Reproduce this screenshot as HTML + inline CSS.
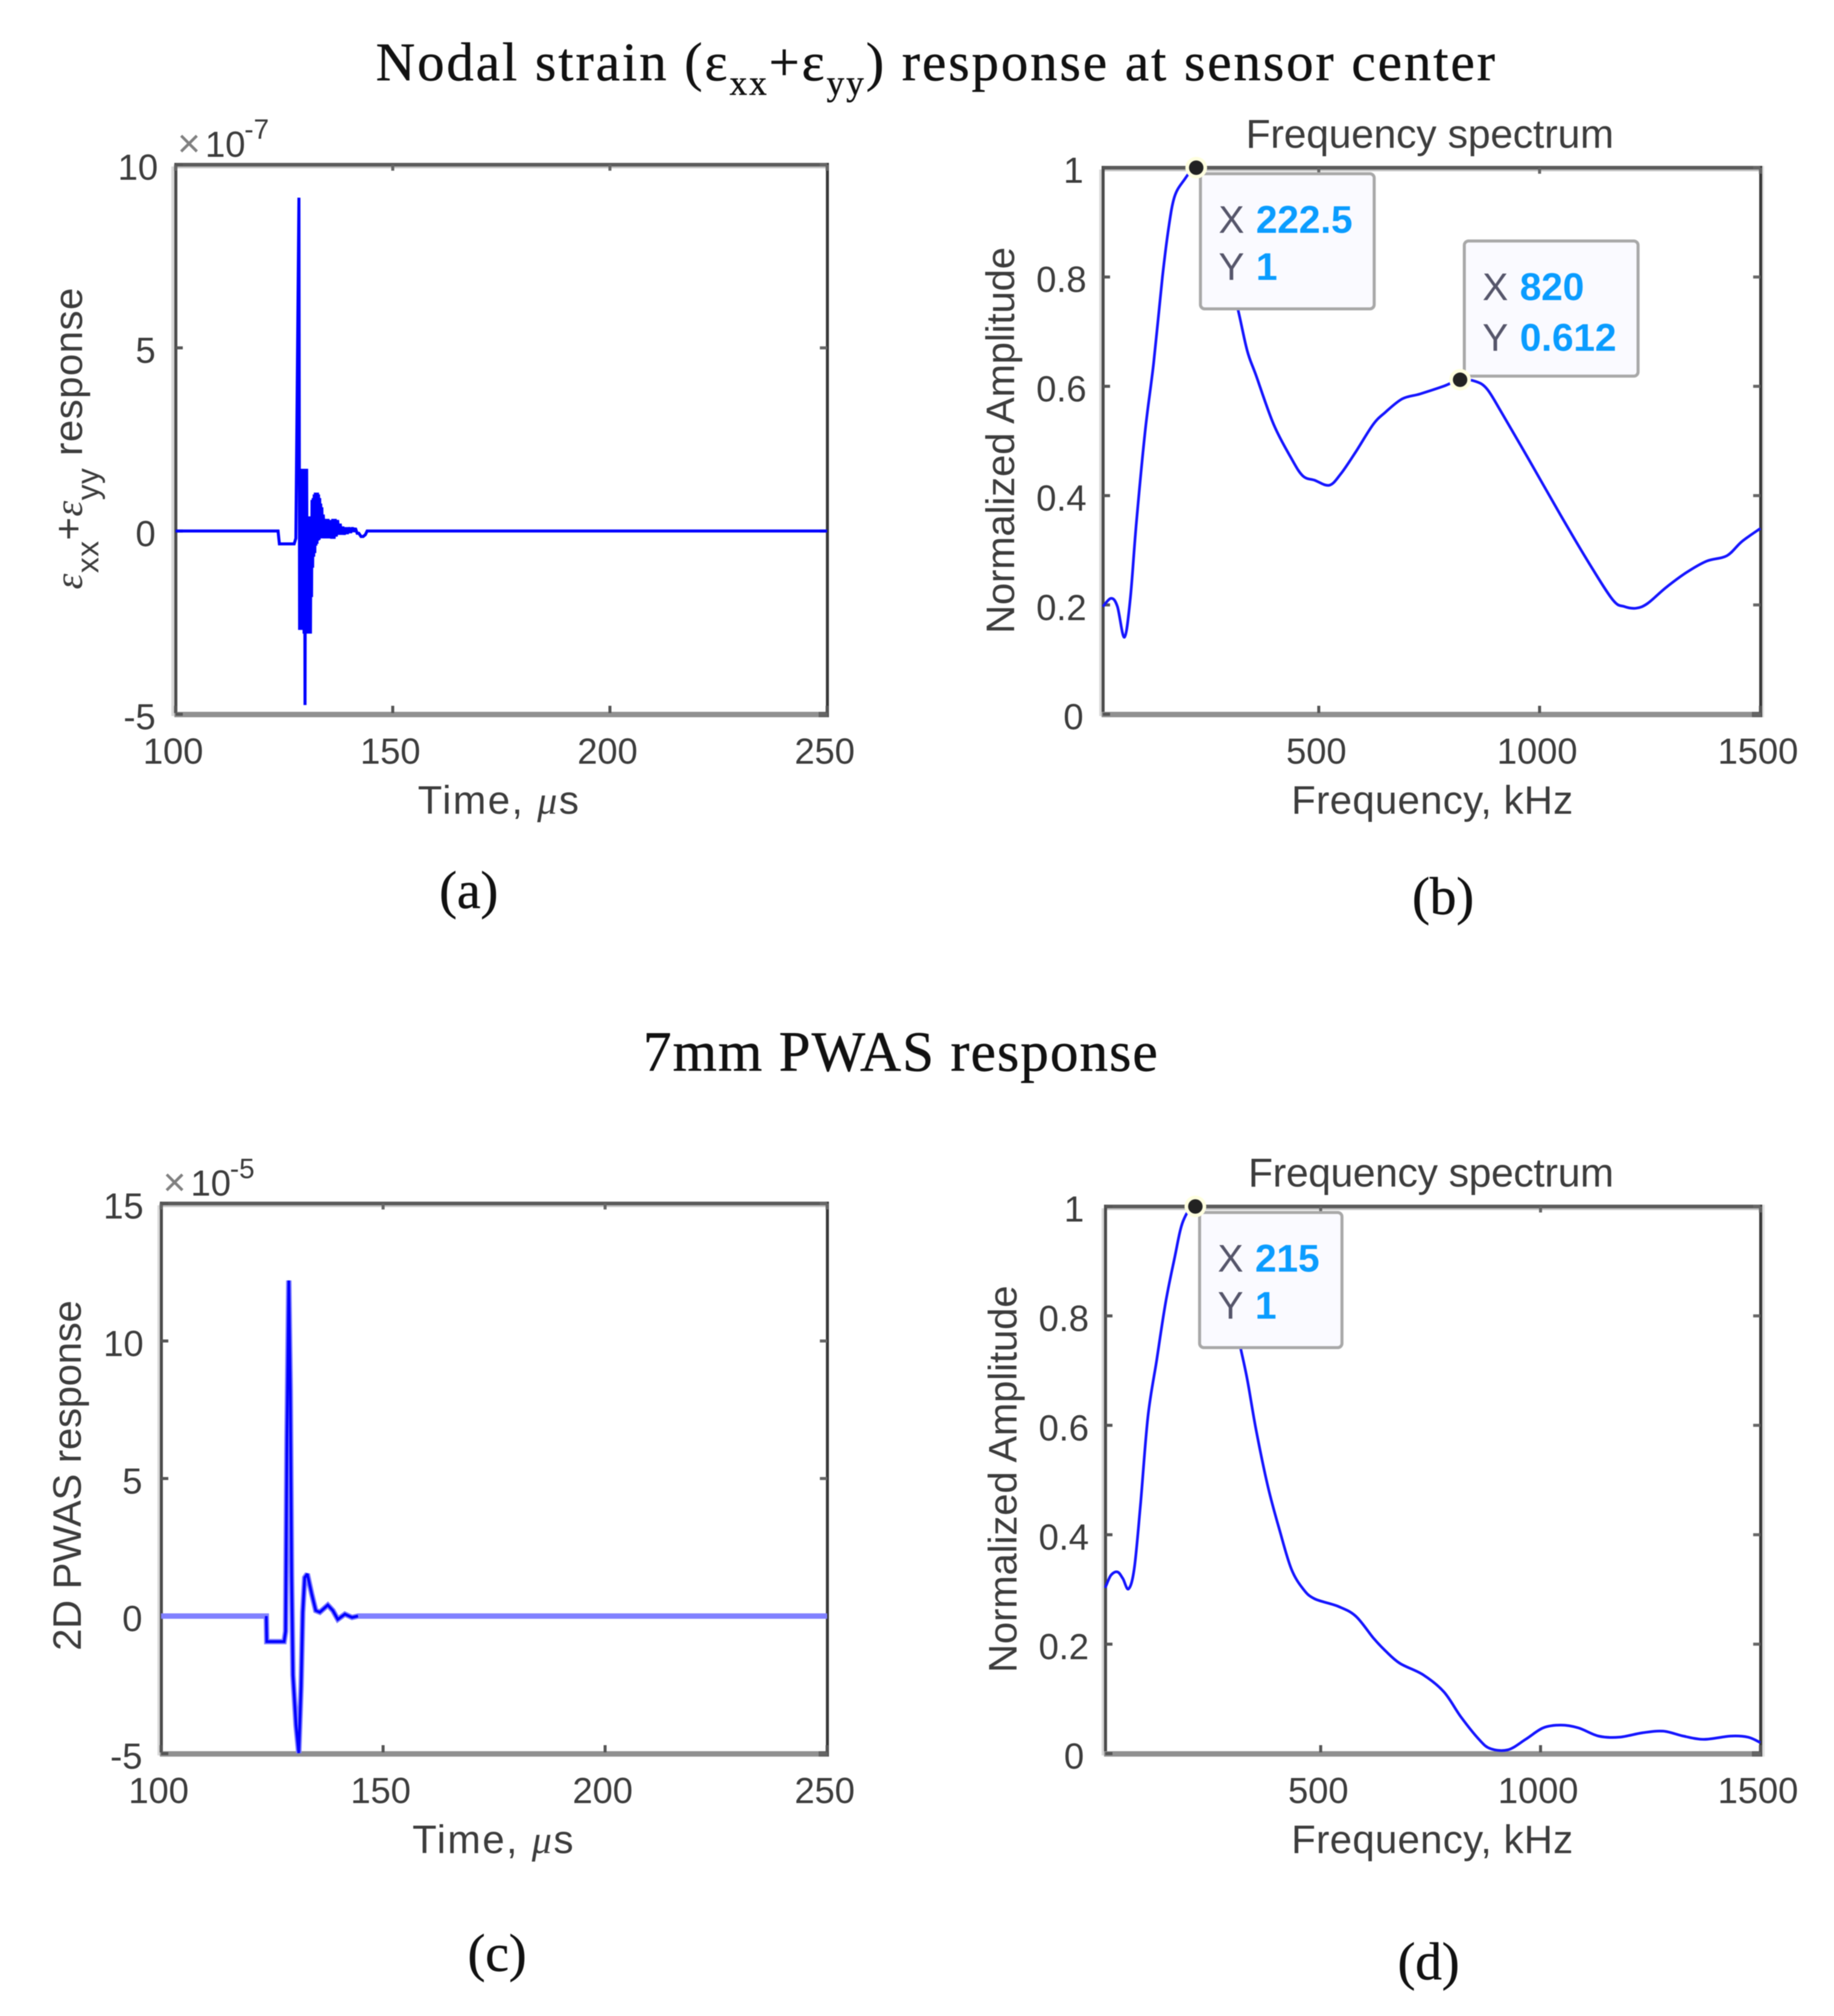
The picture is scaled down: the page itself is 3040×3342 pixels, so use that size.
<!DOCTYPE html>
<html lang="en">
<head>
<meta charset="utf-8">
<title>Nodal strain and PWAS response</title>
<style>
html,body{margin:0;padding:0;background:#fff;width:3040px;height:3342px;overflow:hidden}
svg{display:block;filter:blur(0.9px)}
text{font-family:"Liberation Sans",sans-serif;fill:#3c3c3c}
.serif{font-family:"Liberation Serif",serif;fill:#111;stroke:#111;stroke-width:0.7px}
.ser{font-family:"Liberation Serif",serif}
</style>
</head>
<body>
<svg id="figure" xmlns="http://www.w3.org/2000/svg" width="3040" height="3342" viewBox="0 0 3040 3342">
  <rect x="0" y="0" width="3040" height="3342" fill="#ffffff"/>

  <text class="serif" x="623" y="133" font-size="90" textLength="1855">Nodal strain (ε<tspan font-size="58" dy="24">xx</tspan><tspan dy="-24">+ε</tspan><tspan font-size="58" dy="24">yy</tspan><tspan dy="-24">) response at sensor center</tspan></text>
  <text class="serif" x="1066" y="1775" font-size="94" textLength="853">7mm PWAS response</text>

  <text class="serif" x="777" y="1505" font-size="88" text-anchor="middle">(a)</text>
  <text class="serif" x="2392" y="1515" font-size="88" text-anchor="middle">(b)</text>
  <text class="serif" x="824" y="3267" font-size="88" text-anchor="middle">(c)</text>
  <text class="serif" x="2368" y="3281" font-size="88" text-anchor="middle">(d)</text>

  <text x="826" y="1349" font-size="66" text-anchor="middle" textLength="267">Time, <tspan class="ser" font-style="italic">μ</tspan>s</text>
  <text x="817" y="3072" font-size="66" text-anchor="middle" textLength="267">Time, <tspan class="ser" font-style="italic">μ</tspan>s</text>
  <text x="2374" y="1349" font-size="66" text-anchor="middle" textLength="467">Frequency, kHz</text>
  <text x="2374" y="3072" font-size="66" text-anchor="middle" textLength="467">Frequency, kHz</text>

  <text x="2370" y="245" font-size="67" text-anchor="middle" textLength="610">Frequency spectrum</text>
  <text x="2372" y="1967" font-size="67" text-anchor="middle" textLength="606">Frequency spectrum</text>

  <text transform="translate(136,727) rotate(-90)" font-size="66" text-anchor="middle" textLength="500"><tspan class="ser" font-style="italic">ε</tspan><tspan font-size="52" dy="27">xx</tspan><tspan dy="-27">+</tspan><tspan class="ser" font-style="italic">ε</tspan><tspan font-size="52" dy="27">yy</tspan><tspan dy="-27"> response</tspan></text>
  <text transform="translate(134,2446) rotate(-90)" font-size="66" text-anchor="middle" textLength="581">2D PWAS response</text>
  <text transform="translate(1681,730) rotate(-90)" font-size="66" text-anchor="middle" textLength="641">Normalized Amplitude</text>
  <text transform="translate(1685,2452) rotate(-90)" font-size="66" text-anchor="middle" textLength="642">Normalized Amplitude</text>

  <g>
    <text x="294" y="260" font-size="66" style="fill:#808080">×</text>
    <text x="340" y="260" font-size="60">10</text>
    <text x="405" y="230" font-size="46">-7</text>
  </g>
  <g>
    <text x="270" y="1982" font-size="66" style="fill:#808080">×</text>
    <text x="316" y="1982" font-size="60">10</text>
    <text x="381" y="1953" font-size="46">-5</text>
  </g>
</svg>

<script>
// Panel (a): nodal strain response, x 1e-7
const strainTimes = [100,123.6,123.9,127.3,127.7,128.4,128.55,128.7,128.82,128.95,129.08,129.2,129.33,129.46,129.58,129.7,129.8,129.92,130.05,130.18,130.3,130.43,130.56,130.68,130.8,130.92,131.05,131.18,131.3,131.42,131.55,131.68,131.8,131.92,132.05,132.18,132.3,132.43,132.56,132.68,132.8,132.92,133.05,133.18,133.3,133.42,133.55,133.68,133.8,134.0,134.3,134.55,134.85,135.1,135.4,135.65,135.95,136.2,136.5,136.75,137,137.3,137.6,137.9,138.2,138.5,138.85,139.2,139.55,139.9,140.3,140.7,141,141.4,141.8,142.2,142.7,143.2,143.7,144.1,250];
const strainValues = [0,0,-0.35,-0.35,-0.2,9.1,-2.7,1.7,-2.7,1.7,-2.7,1.7,-2.7,1.7,-2.8,1.7,-4.75,1.7,-2.8,1.7,-2.8,0.4,-2.8,0.4,-2.8,0.4,-2.8,0.4,-1.8,0.85,-1.0,0.9,-0.7,1.0,-0.6,1.05,-0.4,1.05,-0.35,1.05,-0.26,1.0,-0.24,0.9,-0.2,0.75,-0.2,0.65,-0.2,0.45,-0.2,0.33,-0.2,0.33,-0.2,0.3,-0.21,0.33,-0.21,0.33,-0.15,0.3,-0.1,0.2,-0.1,0.12,-0.1,0.1,-0.08,0.1,-0.05,0.1,-0.02,0.08,-0.06,-0.06,-0.15,-0.15,-0.1,0,0];
const strainYTicks = [-5,0,5,10];

// Panel (c): PWAS response, x 1e-5
const pwasTimes = [100,123.7,123.8,127.7,128.05,128.36,128.77,129.1,129.4,129.7,130.4,131,131.53,131.9,132.35,132.94,133.93,134.84,135.75,137.56,138.7,139.8,141.4,143,144.35,250];
const pwasValues = [0,0,-0.93,-0.93,-0.56,6.5,12.2,8.2,1.44,-2.15,-3.97,-4.98,-2.55,0.13,1.4,1.53,0.8,0.2,0.14,0.4,0.2,-0.12,0.07,-0.05,0,0];
const pwasYTicks = [-5,0,5,10,15];
const timeTicks = [100,150,200,250];

// Panel (b): strain spectrum
const strainFreqs = [11,30,44,60,73.5,87,107,126,146,160,173,193,222.5,252,280,316,338,358,398,438,464,491,524,550,583,623,650,689,729,782,820,855,881,914,980,1047,1113,1166,1192,1219,1245,1285,1332,1378,1424,1458,1500];
const strainAmps = [0.197,0.212,0.197,0.141,0.214,0.35,0.519,0.642,0.80,0.89,0.946,0.975,1,0.97,0.86,0.744,0.665,0.62,0.53,0.468,0.436,0.428,0.419,0.44,0.479,0.53,0.552,0.577,0.586,0.60,0.612,0.609,0.595,0.552,0.46,0.365,0.275,0.209,0.197,0.194,0.203,0.231,0.259,0.28,0.29,0.316,0.34];
const strainTipFreqs = ['222.5','820'];
const strainTipAmps = ['1','0.612'];

// Panel (d): PWAS spectrum
const pwasFreqs = [10,23,38,50,63,76,90,107,127,147,167,187,215,250,285,317,333,353,380,407,433,460,486,540,580,620,647,680,733,780,819,860,886,926,966,1006,1046,1086,1132,1179,1232,1279,1325,1372,1432,1472,1500];
const pwasAmps = [0.303,0.326,0.332,0.32,0.301,0.338,0.453,0.615,0.719,0.823,0.903,0.973,1,0.97,0.86,0.744,0.684,0.592,0.488,0.407,0.338,0.301,0.283,0.269,0.251,0.211,0.188,0.165,0.144,0.113,0.067,0.026,0.009,0.007,0.026,0.047,0.052,0.047,0.032,0.03,0.038,0.041,0.032,0.026,0.032,0.03,0.02];
const pwasTipFreqs = ['215'];
const pwasTipAmps = ['1'];

const freqTicks = [500,1000,1500];
const ampTicks = [0,0.2,0.4,0.6,0.8,1];

const SVG_NS = 'http://www.w3.org/2000/svg';
const root = document.getElementById('figure');

function make(tag, attrs, parent) {
  const el = document.createElementNS(SVG_NS, tag);
  for (const k in attrs) el.setAttribute(k, attrs[k]);
  parent.appendChild(el);
  return el;
}
function linear(d0, d1, r0, r1) {
  return v => r0 + (v - d0) * (r1 - r0) / (d1 - d0);
}
function straightPath(xs, ys, sx, sy) {
  return xs.map((x, i) => (i ? 'L' : 'M') + sx(x).toFixed(1) + ' ' + sy(ys[i]).toFixed(1)).join('');
}
function smoothPath(xs, ys, sx, sy) {
  const p = xs.map((x, i) => [sx(x), sy(ys[i])]);
  let d = 'M' + p[0][0].toFixed(1) + ' ' + p[0][1].toFixed(1);
  for (let i = 0; i < p.length - 1; i++) {
    const a = p[Math.max(0, i - 1)], b = p[i], c = p[i + 1], e = p[Math.min(p.length - 1, i + 2)];
    d += 'C' + (b[0] + (c[0] - a[0]) / 6).toFixed(1) + ' ' + (b[1] + (c[1] - a[1]) / 6).toFixed(1) + ' ' +
         (c[0] - (e[0] - b[0]) / 6).toFixed(1) + ' ' + (c[1] - (e[1] - b[1]) / 6).toFixed(1) + ' ' +
         c[0].toFixed(1) + ' ' + c[1].toFixed(1);
  }
  return d;
}

function drawFrame(id, box, style, sx, sy, xTicks, yTicks, intGap) {
  const g = make('g', {}, root);
  
  

  make('rect', {x: box.l - style.leftHalo - 2, y: box.t + 3, width: style.leftHalo, height: box.b - box.t, fill: '#d8d8d8'}, g);
  make('rect', {x: box.l, y: box.t + 2, width: box.r - box.l, height: 4, fill: '#c4c4c4'}, g);
  make('rect', {x: box.l - 2, y: box.t - 3, width: box.r - box.l + 4, height: 6, fill: '#5a5a5a'}, g);
  make('rect', {x: box.l - 2, y: box.t - 3, width: 5, height: box.b - box.t + 8, fill: '#4a4a4a'}, g);
  if (style.rightHalo) make('rect', {x: box.r + 2, y: box.t - 3, width: style.rightHalo, height: box.b - box.t + 8, fill: '#e0e0e0'}, g);
  make('rect', {x: box.r - 2, y: box.t - 3, width: 5, height: box.b - box.t + 8, fill: '#383838'}, g);
  make('rect', {x: box.l - 2, y: box.b - 4, width: box.r - box.l + 4, height: 9, fill: '#909090'}, g);
  make('rect', {x: box.r - 14, y: box.b - 4, width: 16, height: 9, fill: '#606060'}, g);

  xTicks.forEach(v => {
    const x = sx(v);
    const tickBottom = make('rect', {x: x - 2.5, y: box.b - 14, width: 5, height: 12, fill: '#555'}, g);
    
    const tickTop = make('rect', {x: x - 2.5, y: box.t, width: 5, height: 10, fill: '#666'}, g);
    
    const label = make('text', {x: x - 4, y: box.b + 82, 'font-size': 60, 'text-anchor': 'middle'}, g);
    
    label.textContent = String(v);
  });
  yTicks.forEach(v => {
    const y = sy(v);
    const str = String(v);
    const tickLeft = make('rect', {x: box.l, y: y - 2.5, width: 12, height: 5, fill: '#555'}, g);
    
    const tickRight = make('rect', {x: box.r - 12, y: y - 2.5, width: 12, height: 5, fill: '#666'}, g);
    
    const gap = str.indexOf('.') >= 0 ? 27 : (str === '10' || str === '15' ? 29 : intGap);
    const label = make('text', {x: box.l - gap, y: y + 25, 'font-size': 60, 'text-anchor': 'end'}, g);
    
    label.textContent = str;
  });
}

function drawTip(id, fx, fy, sx, sy, above) {
  const mx = sx(parseFloat(fx)), my = sy(parseFloat(fy));
  const width = 158 + 26 * Math.max(fx.length, fy.length);
  const height = 224;
  const left = mx + 5;
  const top = above ? my - height - 8 : my + 8;
  const lineGap = above ? 84 : 78;

  const g = make('g', {}, root);
  
  

  make('rect', {x: left + 2, y: top + 2, width: width, height: height, rx: 7, fill: '#fafaff', stroke: '#a8a8a8', 'stroke-width': 5}, g);

  const keyX = make('text', {x: left + 32, y: top + 100, 'font-size': 64, style: 'fill:#55556a'}, g);
  
  keyX.textContent = 'X';
  const valX = make('text', {x: left + 94, y: top + 100, 'font-size': 64, 'font-weight': 'bold', style: 'fill:#0a9cff'}, g);
  
  valX.textContent = fx;
  const keyY = make('text', {x: left + 32, y: top + 100 + lineGap, 'font-size': 64, style: 'fill:#55556a'}, g);
  
  keyY.textContent = 'Y';
  const valY = make('text', {x: left + 94, y: top + 100 + lineGap, 'font-size': 64, 'font-weight': 'bold', style: 'fill:#0a9cff'}, g);
  
  valY.textContent = fy;

  const halo = make('circle', {cx: mx, cy: my, r: 18, fill: '#ffffe0'}, g);
  
  const dot = make('circle', {cx: mx, cy: my, r: 12, fill: '#222'}, g);
  
}

/* Panel (a) */
const boxA = {l: 291, r: 1371, t: 273, b: 1184};
const ax = linear(100, 250, boxA.l, boxA.r);
const ay = linear(-5, 10, boxA.b, boxA.t);
drawFrame('panel-a', boxA, {leftHalo: 5, rightHalo: 0}, ax, ay, timeTicks, strainYTicks, 33);
const lineA = make('path', {d: straightPath(strainTimes, strainValues, ax, ay), fill: 'none', stroke: '#0000ff', 'stroke-width': 5, 'stroke-linejoin': 'miter', 'stroke-miterlimit': 2}, root);



/* Panel (c) */
const boxC = {l: 267, r: 1371, t: 1995, b: 2907};
const cx = linear(100, 250, boxC.l, boxC.r);
const cy = linear(-5, 15, boxC.b, boxC.t);
drawFrame('panel-c', boxC, {leftHalo: 4, rightHalo: 0}, cx, cy, timeTicks, pwasYTicks, 31);
const lineCBase = make('path', {d: straightPath(pwasTimes, pwasValues, cx, cy), fill: 'none', stroke: '#8080ff', 'stroke-width': 9, 'stroke-miterlimit': 2}, root);


const transientIdx = pwasTimes.map((t, i) => i).filter(i => pwasTimes[i] > 123 && pwasTimes[i] < 145);
const lineCCore = make('path', {d: straightPath(transientIdx.map(i => pwasTimes[i]), transientIdx.map(i => pwasValues[i]), cx, cy), fill: 'none', stroke: '#0000ff', 'stroke-width': 4.5, 'stroke-miterlimit': 2}, root);



/* Panel (b) */
const boxB = {l: 1828, r: 2918, t: 278, b: 1184};
const bx = linear(11, 1500, boxB.l, boxB.r);
const by = linear(0, 1, boxB.b, boxB.t);
drawFrame('panel-b', boxB, {leftHalo: 4, rightHalo: 4}, bx, by, freqTicks, ampTicks, 32);
const lineB = make('path', {d: smoothPath(strainFreqs, strainAmps, bx, by), fill: 'none', stroke: '#1414ff', 'stroke-width': 4.5}, root);


strainTipFreqs.forEach((f, i) => drawTip('panel-b-' + (i + 1), f, strainTipAmps[i], bx, by, i === 1));

/* Panel (d) */
const boxD = {l: 1832, r: 2918, t: 2000, b: 2907};
const dx = linear(10, 1500, boxD.l, boxD.r);
const dy = linear(0, 1, boxD.b, boxD.t);
drawFrame('panel-d', boxD, {leftHalo: 4, rightHalo: 5}, dx, dy, freqTicks, ampTicks, 35);
const lineD = make('path', {d: smoothPath(pwasFreqs, pwasAmps, dx, dy), fill: 'none', stroke: '#1414ff', 'stroke-width': 4.5}, root);


pwasTipFreqs.forEach((f, i) => drawTip('panel-d-' + (i + 1), f, pwasTipAmps[i], dx, dy, false));
</script>
</body>
</html>
